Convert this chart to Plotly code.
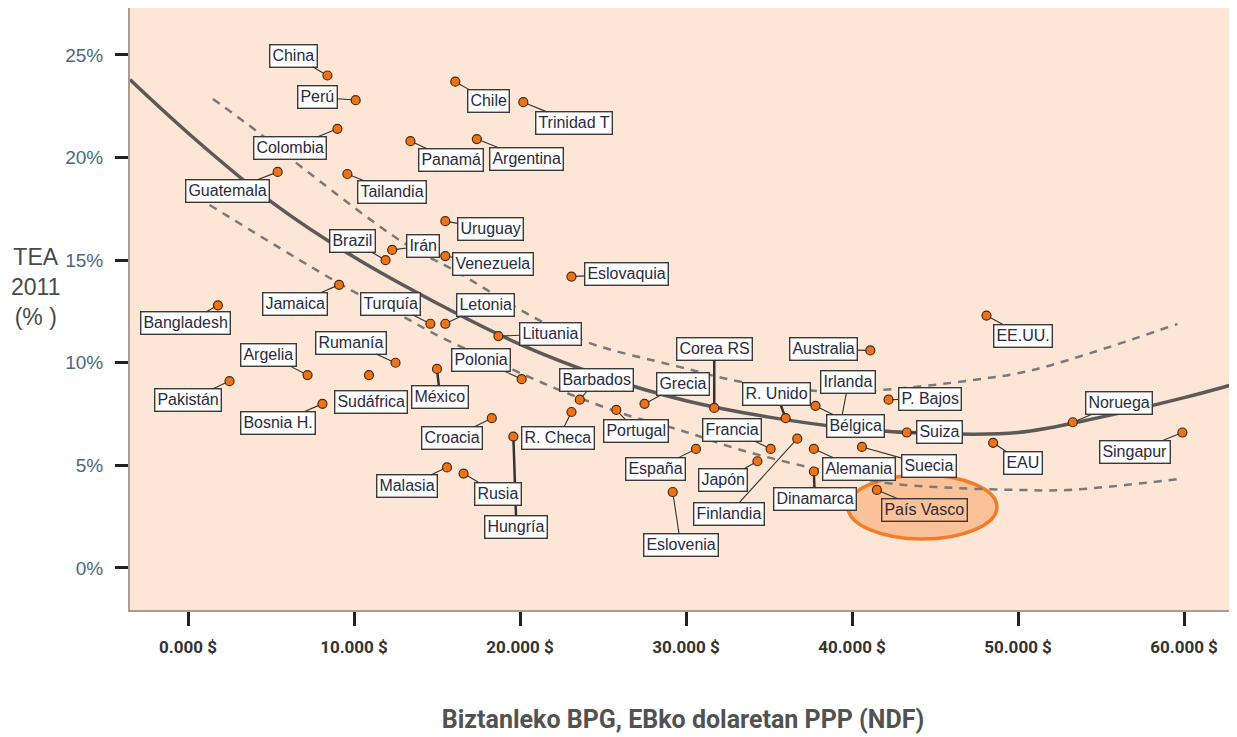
import plotly.graph_objects as go

# ---- data ----
countries = [
    "China", "Perú", "Colombia", "Guatemala", "Tailandia", "Brazil", "Irán",
    "Jamaica", "Turquía", "Letonia", "Bangladesh", "Argelia", "Rumanía",
    "Pakistán", "Bosnia H.", "Sudáfrica", "México", "Malasia", "Hungría",
    "Rusia", "Croacia", "Polonia", "Lituania", "R. Checa", "Portugal",
    "Barbados", "Grecia", "Corea RS", "R. Unido", "Francia", "España",
    "Japón", "Eslovenia", "Finlandia", "Dinamarca", "Alemania", "Irlanda",
    "Bélgica", "Australia", "P. Bajos", "Suiza", "Suecia", "País Vasco",
    "EE.UU.", "EAU", "Noruega", "Singapur", "Chile", "Trinidad T", "Panamá",
    "Argentina", "Uruguay", "Venezuela", "Eslovaquia",
]
gdp_ppp = [
    8400, 10100, 9000, 5400, 9600, 11900, 12300,
    9100, 14600, 15500, 1800, 7200, 12500,
    2500, 8100, 10900, 15000, 15600, 19600,
    16600, 18300, 20100, 18700, 23100, 25800,
    23600, 27500, 31700, 36000, 35100, 30600,
    34300, 29200, 36700, 37700, 37700, 39300,
    37800, 41100, 42200, 43300, 40600, 41500,
    48100, 48500, 53300, 59900, 16100, 20200, 13400,
    17400, 15500, 15500, 23100,
]
tea_pct = [
    24.0, 22.8, 21.4, 19.3, 19.2, 15.0, 15.5,
    13.8, 11.9, 11.9, 12.8, 9.4, 10.0,
    9.1, 8.0, 9.4, 9.7, 4.9, 6.4,
    4.6, 7.3, 9.2, 11.3, 7.6, 7.7,
    8.2, 8.0, 7.8, 7.3, 5.8, 5.8,
    5.2, 3.7, 6.3, 4.7, 5.8, 7.0,
    7.9, 10.6, 8.2, 6.6, 5.9, 3.8,
    12.3, 6.1, 7.1, 6.6, 23.7, 22.7, 20.8,
    20.9, 16.9, 15.2, 14.2,
]

# regression curve and its confidence band
fit_x = [-3500, 0, 5000, 10000, 15000, 20000, 25000, 30000, 35000,
         40000, 45000, 50000, 55000, 60000, 63200]
fit_y = [23.8, 21.2, 17.85, 15.15, 12.9, 10.9, 9.33, 8.15, 7.35,
         6.8, 6.55, 6.6, 7.35, 8.3, 9.0]
upper_x = [1500, 4200, 6300, 13000, 16000, 20800, 24000, 29600, 33400,
           38500, 41700, 47300, 50900, 59600]
upper_y = [22.86, 21.25, 19.88, 15.84, 14.52, 12.23, 11.01, 9.80, 9.06,
           8.6, 8.67, 9.16, 9.65, 11.89]
lower_x = [1300, 9800, 13000, 15200, 19600, 22800, 26800, 29600, 33300,
           38100, 42100, 46100, 50100, 53000, 59800]
lower_y = [17.69, 13.55, 12.23, 11.26, 9.65, 8.53, 7.36, 6.73, 5.75,
           4.78, 4.14, 3.90, 3.80, 3.80, 4.34]

x_ticks = [0, 10000, 20000, 30000, 40000, 50000, 60000]
x_tick_text = ["0.000 $", "10.000 $", "20.000 $", "30.000 $",
               "40.000 $", "50.000 $", "60.000 $"]
y_ticks = [0, 5, 10, 15, 20, 25]
y_tick_text = ["0%", "5%", "10%", "15%", "20%", "25%"]

# ---- label placement (pixel offsets of each box from its dot) ----
LABEL_OFFSETS = {
    "China": (-34, -20), "Perú": (-38, -3), "Colombia": (-47, 19),
    "Guatemala": (-50, 19), "Tailandia": (45, 18), "Brazil": (-33, -19),
    "Irán": (31, -4), "Jamaica": (-44, 19), "Turquía": (-40, -20),
    "Letonia": (40, -19), "Bangladesh": (-32, 18), "Argelia": (-39, -20),
    "Rumanía": (-45, -20), "Pakistán": (-42, 19), "Bosnia H.": (-44, 19),
    "Sudáfrica": (2, 27), "México": (3, 28), "Malasia": (-40, 19),
    "Hungría": (3, 90), "Rusia": (34, 20), "Croacia": (-40, 20),
    "Polonia": (-41, -19), "Lituania": (52, -2), "R. Checa": (-13, 26),
    "Portugal": (20, 21), "Barbados": (17, -20), "Grecia": (38, -20),
    "Corea RS": (0, -59), "R. Unido": (-9, -24), "Francia": (-39, -19),
    "España": (-40, 20), "Japón": (-34, 19), "Eslovenia": (8, 53),
    "Finlandia": (-68, 75), "Dinamarca": (1, 27), "Alemania": (45, 20),
    "Irlanda": (8, -42), "Bélgica": (40, 20), "Australia": (-47, -1),
    "P. Bajos": (41, -1), "Suiza": (33, -1), "Suecia": (67, 19),
    "País Vasco": (48, 20), "EE.UU.": (37, 20), "EAU": (30, 20),
    "Noruega": (46, -19), "Singapur": (-47, 19), "Chile": (33, 19),
    "Trinidad T": (51, 21), "Panamá": (41, 19), "Argentina": (50, 20),
    "Uruguay": (45, 8), "Venezuela": (48, 8), "Eslovaquia": (55, -3),
}
THICK = {"Corea RS", "Sudáfrica", "México", "Hungría", "R. Unido", "Dinamarca"}

BG_PLOT = "#fde6d6"
CURVE = "#5a5a5a"
DASH = "#7a7a7a"
DOT = "#ec7318"
LABEL_TXT = "#2a2a40"
CONDENSED = "Roboto, Liberation Sans, sans-serif"
SANS = "Liberation Sans, Arial, sans-serif"

fig = go.Figure()

fig.add_trace(go.Scatter(
    x=upper_x, y=upper_y, mode="lines", line_shape="spline",
    line=dict(color=DASH, width=2.5, dash="8px,7px"), hoverinfo="skip",
))
fig.add_trace(go.Scatter(
    x=lower_x, y=lower_y, mode="lines", line_shape="spline",
    line=dict(color=DASH, width=2.5, dash="8px,7px"), hoverinfo="skip",
))
fig.add_trace(go.Scatter(
    x=fit_x, y=fit_y, mode="lines", line_shape="spline",
    line=dict(color=CURVE, width=3.5), hoverinfo="skip",
))
fig.add_trace(go.Scatter(
    x=gdp_ppp, y=tea_pct, mode="markers", text=countries,
    marker=dict(color=DOT, size=9, line=dict(color="#4a2a10", width=1.2)),
    hovertemplate="%{text}<br>%{x:,}<br>%{y}%<extra></extra>",
))

# Hungría first so Rusia's box sits over its long connector
order = sorted(range(len(countries)),
               key=lambda i: 0 if countries[i] == "Hungría" else 1)
pv = countries.index("País Vasco")
for i in order:
    name = countries[i]
    dx, dy = LABEL_OFFSETS[name]
    is_pv = name == "País Vasco"
    fig.add_annotation(
        x=gdp_ppp[i], y=tea_pct[i], ax=dx, ay=dy, text=name,
        showarrow=True, arrowhead=0, arrowcolor="#333333",
        arrowwidth=2.5 if name in THICK else 1.1, standoff=4,
        font=dict(family=SANS, size=16, color=LABEL_TXT),
        bgcolor="rgba(0,0,0,0)" if is_pv else "#ffffff",
        bordercolor="#3a3a3a", borderwidth=1.4, borderpad=2,
    )

# highlight ellipse round País Vasco
fig.add_shape(
    type="circle", layer="below",
    xref="x", yref="y", xsizemode="pixel", ysizemode="pixel",
    xanchor=gdp_ppp[pv], yanchor=tea_pct[pv],
    x0=-29, x1=120, y0=-49, y1=15,
    fillcolor="rgba(248,150,80,0.45)",
    line=dict(color="#f07d2a", width=3.5),
)

# y-axis title
fig.add_annotation(
    xref="paper", yref="paper", x=-0.085, y=0.537,
    text="TEA<br>2011<br>(% )", showarrow=False,
    font=dict(family=SANS, size=23, color="#4a4a4a"),
    xanchor="center", yanchor="middle", align="center",
)

# the page keeps an 8px body margin, so the figure is 8px smaller each way
fig.update_layout(
    width=1229, height=729,
    paper_bgcolor="#ffffff", plot_bgcolor=BG_PLOT,
    showlegend=False,
    margin=dict(l=122, r=1, t=0, b=127),
    xaxis=dict(
        range=[-3494, 63130], tickvals=x_ticks, ticktext=x_tick_text,
        ticks="outside", ticklen=14, tickwidth=2.5, tickcolor="#222222",
        ticklabelstandoff=7,
        tickfont=dict(family=CONDENSED, size=17, color="#333333", weight="bold"),
        showgrid=False, zeroline=False,
        showline=True, linecolor="#a89c94", linewidth=2,
        title=dict(text="Biztanleko BPG, EBko dolaretan PPP (NDF)",
                   font=dict(family=CONDENSED, size=25, color="#525252",
                             weight="bold"),
                   standoff=54),
    ),
    yaxis=dict(
        range=[-2.05, 27.29], tickvals=y_ticks, ticktext=y_tick_text,
        ticks="outside", ticklen=13, tickwidth=3, tickcolor="#222222",
        ticklabelstandoff=8,
        tickfont=dict(family=SANS, size=19, color="#4d6680"),
        showgrid=False, zeroline=False,
        showline=True, mirror=True, linecolor="#a89c94", linewidth=2,
    ),
)

fig.write_html("out.html")
